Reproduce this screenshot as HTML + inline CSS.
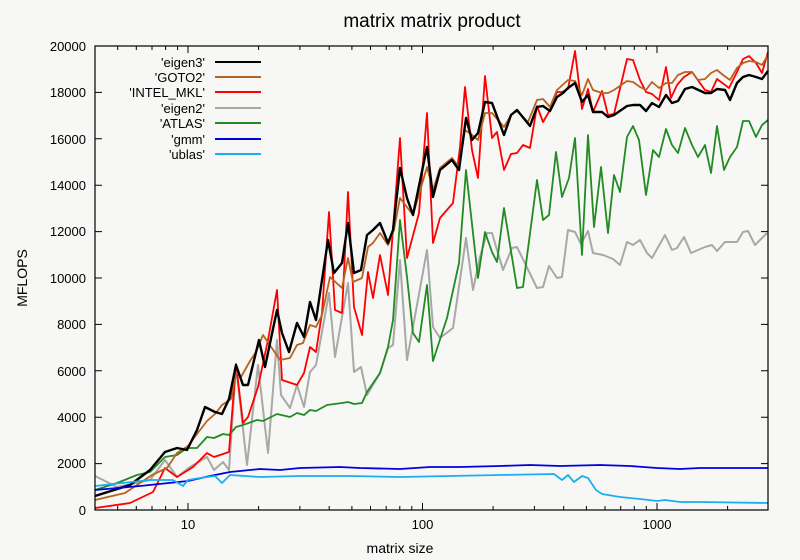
<!DOCTYPE html>
<html><head><meta charset="utf-8"><style>
body{margin:0;background:#f7f7f5}
svg{display:block}
text{font-family:"Liberation Sans",sans-serif;font-size:13px;fill:#000}
polyline{fill:none;stroke-linejoin:round}
</style></head><body>
<svg width="800" height="560" viewBox="0 0 800 560">
<rect width="800" height="560" fill="#f7f7f5"/>
<text x="432" y="27" text-anchor="middle" style="font-size:19px">matrix matrix product</text>
<text x="400" y="553" text-anchor="middle" style="font-size:14px">matrix size</text>
<text transform="translate(27,278) rotate(-90)" text-anchor="middle" style="font-size:14px">MFLOPS</text>
<g text-anchor="end">
<text x="86" y="515">0</text><text x="86" y="468">2000</text><text x="86" y="422">4000</text><text x="86" y="376">6000</text><text x="86" y="329">8000</text><text x="86" y="283">10000</text><text x="86" y="236">12000</text><text x="86" y="190">14000</text><text x="86" y="144">16000</text><text x="86" y="97">18000</text><text x="86" y="51">20000</text>
</g>
<g text-anchor="middle"><text x="188" y="529">10</text><text x="422.5" y="529">100</text><text x="657" y="529">1000</text></g>
<g stroke="#000" stroke-width="1">
<path d="M95,510h7M95,463.6h7M95,417.2h7M95,370.8h7M95,324.4h7M95,278h7M95,231.6h7M95,185.2h7M95,138.8h7M95,92.4h7M768,510h-7M768,463.6h-7M768,417.2h-7M768,370.8h-7M768,324.4h-7M768,278h-7M768,231.6h-7M768,185.2h-7M768,138.8h-7M768,92.4h-7"/>
<path d="M188,510v-7M422.5,510v-7M657,510v-7M188,46v7M422.5,46v7M657,46v7"/>
<path d="M117.7,510v-4M136.3,510v-4M152,510v-4M165.6,510v-4M177.6,510v-4M258.6,510v-4M299.9,510v-4M329.2,510v-4M351.9,510v-4M370.5,510v-4M386.2,510v-4M399.8,510v-4M411.8,510v-4M493.1,510v-4M534.4,510v-4M563.7,510v-4M586.4,510v-4M605,510v-4M620.7,510v-4M634.3,510v-4M646.3,510v-4M727.6,510v-4
M117.7,46v4M136.3,46v4M152,46v4M165.6,46v4M177.6,46v4M258.6,46v4M299.9,46v4M329.2,46v4M351.9,46v4M370.5,46v4M386.2,46v4M399.8,46v4M411.8,46v4M493.1,46v4M534.4,46v4M563.7,46v4M586.4,46v4M605,46v4M620.7,46v4M634.3,46v4M646.3,46v4M727.6,46v4"/>
</g>
<polyline stroke="#a8a8a8" stroke-width="2" points="95,476 117,487 150,480 165,460 177,477 190,467 207,457 214,470 223,462 229,470 236,366 247,465 258,365 268,453 277,340 281,395 290,408 297,385 304,407 310,372 316,365 329,293 335,357 348,283 354,372 361,367 367,395 380,373 388,348 393,345 400,260 407,360 427,250 433,327 440,338 453,328 466,238 473,290 480,257 487,233 492,233 503,270 512,248 517,247 537,288 543,287 549,266 557,278 562,277 568,230 575,232 581,244 588,231 593,253 603,255 613,259 620,265 627,242 633,245 640,240 647,253 652,258 665,235 672,250 677,248 684,237 691,253 705,247 712,245 717,251 725,242 737,242 743,232 748,231 755,245 767,233"/>
<polyline stroke="#228b22" stroke-width="1.8" points="95,490 117,483 137,475 150,472 165,457 177,455 187,448 197,448 207,437 214,438 223,434 229,435 236,427 243,425 257,420 263,421 277,414 290,417 297,413 304,415 310,410 316,411 327,405 342,403 348,402 354,404 362,403 367,392 380,373 388,347 393,320 400,220 407,277 413,333 419,342 427,285 433,361 447,318 459,263 466,170 478,278 485,232 492,252 497,262 504,208 517,288 523,287 537,180 543,220 549,215 556,152 562,197 569,178 575,138 582,255 588,135 594,227 601,167 608,233 614,175 620,192 627,137 633,126 639,140 646,195 653,150 659,157 666,129 672,145 678,153 685,128 692,145 698,157 705,145 711,173 717,126 724,170 730,157 737,147 743,121 749,121 756,137 762,125 768,120"/>
<polyline stroke="#ff0000" stroke-width="1.8" points="95,508 130,503 153,492 165,468 177,477 193,467 207,453 214,457 229,452 236,364 243,423 248,417 258,387 268,340 277,290 282,380 288,382 297,385 304,373 310,347 316,352 322,313 329,212 335,310 342,313 348,192 354,307 362,335 368,272 373,298 380,255 388,295 400,138 407,258 419,213 427,113 433,243 440,218 453,203 460,147 465,87 472,150 478,178 485,76 492,138 497,132 504,170 511,154 517,153 523,145 530,148 537,106 543,122 550,110 557,92 562,92 568,89 575,51 582,109 588,89 593,112 602,91 608,115 614,114 627,59 633,60 640,80 646,92 652,94 659,100 666,67 671,98 677,85 684,77 692,72 705,90 711,92 717,79 729,88 737,72 743,59 749,56 756,63 762,73 768,52"/>
<polyline stroke="#b8621e" stroke-width="1.8" points="95,500 125,493 152,475 167,468 177,453 188,446 197,434 207,421 215,414 222,405 231,399 236,372 241,377 250,361 256,352 263,335 280,360 290,358 297,345 303,343 310,325 316,327 322,315 330,277 342,288 348,258 353,282 362,278 368,247 373,243 380,233 388,245 394,230 400,198 413,215 427,167 433,190 440,168 452,158 459,167 465,130 472,135 478,140 485,113 492,113 504,127 511,115 517,111 528,122 537,100 543,99 550,107 557,90 568,80 575,81 582,95 588,79 593,90 602,93 608,93 614,90 627,81 633,82 640,87 646,90 652,82 659,88 666,83 672,83 678,75 685,72 692,72 698,80 705,79 711,73 717,70 723,75 730,80 737,68 743,63 749,61 756,62 762,65 768,55"/>
<polyline stroke="#000" stroke-width="2.4" points="95,496 130,485 150,470 165,452 177,448 187,450 197,430 205,407 215,412 222,414 229,399 236,365 243,385 248,385 259,340 265,367 277,310 282,333 289,352 297,323 304,337 310,302 316,320 328,240 334,273 342,263 348,223 354,273 361,270 367,235 373,230 380,223 388,243 393,230 400,168 407,198 413,215 427,147 433,197 440,170 452,160 459,170 466,118 472,140 478,133 485,102 492,103 504,135 511,115 517,110 530,126 537,107 543,106 550,111 557,97 563,93 568,88 575,83 582,102 588,95 593,112 602,112 608,117 614,115 627,106 633,105 640,105 646,111 652,103 659,107 666,95 672,103 678,101 685,89 692,87 705,93 711,93 717,89 725,90 730,100 737,83 743,77 749,75 756,77 762,79 768,71"/>
<polyline stroke="#0000e0" stroke-width="1.8" points="95,490 140,486 188,481 210,476 230,472 260,469 280,470 300,468 340,467 360,468 400,469 430,467 460,467 500,466 530,465 560,466 600,465 630,466 657,468 680,469 700,468 740,468 768,468"/>
<polyline stroke="#1ab0f0" stroke-width="1.8" points="95,486 150,480 173,480 183,486 188,480 200,478 215,476 222,483 230,475 260,477 300,476 350,476 400,477 450,476 500,475 554,474 562,480 568,475 574,482 582,476 588,478 596,490 602,494 620,497 640,499 657,501 665,500 680,502 700,502 768,503"/>
<rect x="95" y="46" width="673" height="464" fill="none" stroke="#000" stroke-width="1.2"/>
<g text-anchor="end">
<text x="205" y="67">'eigen3'</text><text x="205" y="82">'GOTO2'</text><text x="205" y="97">'INTEL_MKL'</text><text x="205" y="113">'eigen2'</text><text x="205" y="128">'ATLAS'</text><text x="205" y="144">'gmm'</text><text x="205" y="159">'ublas'</text>
</g>
<g stroke-width="2">
<path d="M215,62H261" stroke="#000"/><path d="M215,77H261" stroke="#b8621e"/><path d="M215,92H261" stroke="#ff0000"/><path d="M215,108H261" stroke="#a8a8a8"/><path d="M215,123H261" stroke="#228b22"/><path d="M215,139H261" stroke="#0000e0"/><path d="M215,154H261" stroke="#1ab0f0"/>
</g>
</svg>
</body></html>
